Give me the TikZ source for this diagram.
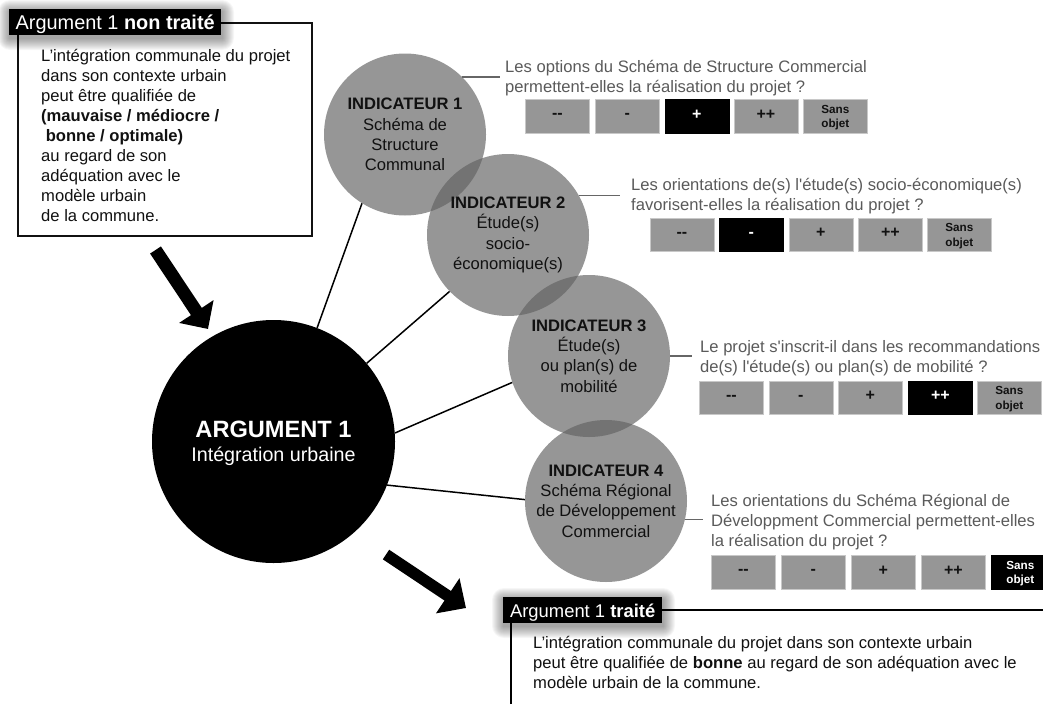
\documentclass[tikz,border=0pt]{standalone}
\usepackage{fontspec}
\setmainfont{Liberation Sans}
\usetikzlibrary{arrows.meta}
\definecolor{btnfill}{HTML}{969696}
\definecolor{btnedge}{HTML}{C8C8C8}
\definecolor{discfill}{HTML}{626262}
\definecolor{qtext}{HTML}{5A5A5A}
\definecolor{leader}{HTML}{666666}
\definecolor{ink}{HTML}{111111}
\newcommand{\firstln}{\rule{0pt}{14pt}}
\newcommand{\dbl}{\mbox{-}\mbox{-}}
\newcommand{\btnrule}{\rule[-3pt]{0pt}{11pt}}
\newcommand{\sanslbl}{\rule{0pt}{11.5pt}Sans\\objet}
\tikzset{
  bodytext/.style={anchor=north west,inner sep=0pt,align=left,text=ink,font=\fontsize{16.6}{20}\selectfont},
  question/.style={anchor=north west,inner sep=0pt,align=left,text=qtext,font=\fontsize{16.6}{20}\selectfont},
  disc/.style={circle,inner sep=0pt,minimum size=162pt,fill=discfill,fill opacity=.67,text opacity=1,text=ink,align=center,font=\fontsize{16.6}{20.2}\selectfont},
  btnbase/.style={anchor=north west,inner sep=0pt,minimum width=64pt,minimum height=33.5pt,align=center,font=\fontsize{16}{14.5}\bfseries\selectfont},
  btn/.style={btnbase,fill=btnfill,draw=btnedge,line width=.8pt,text=ink},
  btnon/.style={btnbase,fill=black,draw=black,line width=.8pt,text=white},
  small/.style={font=\fontsize{11.7}{14.5}\bfseries\selectfont},
  tag/.style={anchor=north west,inner sep=0pt,fill=black,text=white,text height=14pt,text depth=0pt},
  spoke/.style={draw=black,line width=1.5pt},
  lead/.style={draw=leader,line width=1.5pt},
  frame/.style={draw=ink,line width=1.5pt},
  bigarrow/.style={line width=#1,draw=black},
}
\begin{document}
\begin{tikzpicture}[x=1pt,y=-1pt]
\useasboundingbox (0,0) rectangle (1043,704);
% centre disc
\node[circle,inner sep=0pt,minimum size=243pt,fill=black,text=white,align=center] (main) at (273.5,441.5) {};
\node[text=white,inner sep=0pt,anchor=base,font=\fontsize{23.6}{24}\bfseries\selectfont] (mainA) at (273.5,437) {ARGUMENT 1};
\node[text=white,inner sep=0pt,anchor=base,font=\fontsize{19.7}{24}\selectfont] (mainB) at (273.5,461) {Intégration urbaine};
% indicators
\node[disc] (i1) at (405,134.5) {\textbf{INDICATEUR 1}\\Schéma de\\Structure\\Communal};
\node[disc] (i2) at (508,235) {\textbf{INDICATEUR 2}\\Étude(s)\\socio-\\économique(s)};
\node[disc] (i3) at (589,356) {\textbf{INDICATEUR 3}\\Étude(s)\\ou plan(s) de\\mobilité};
\node[disc] (i4) at (606,501) {\textbf{INDICATEUR 4}\\Schéma Régional\\de Développement\\Commercial};
% spokes
\draw[spoke] (main.69.6) -- (i1.238.7);
\draw[spoke] (main.40) -- (i2.224.5);
\draw[spoke] (main.4.5) -- (i3.199.6);
\draw[spoke] (main.-21) -- (i4.179.3);
% leaders
\coordinate (l1) at (500,77);
\coordinate (l2) at (620,195);
\coordinate (l3) at (692,356);
\coordinate (l4) at (703,520);
\draw[lead] (i1.45) -- (l1 |- i1.45);
\draw[lead] (i2.29.6) -- (l2 |- i2.29.6);
\draw[lead] (i3.0) -- (l3 |- i3.0);
\draw[lead] (i4.-13.6) -- (l4 |- i4.-13.6);
% questions
\node[question] (q1) at (505,58) {\firstln Les options du Schéma de Structure Commercial\\permettent-elles la réalisation du projet ?};
\node[question] (q2) at (631,176) {\firstln Les orientations de(s) l\textquotesingle étude(s) socio-économique(s)\\favorisent-elles la réalisation du projet ?};
\node[question] (q3) at (700,338) {\firstln Le projet s\textquotesingle inscrit-il dans les recommandations\\de(s) l\textquotesingle étude(s) ou plan(s) de mobilité ?};
\node[question] (q4) at (711,492) {\firstln Les orientations du Schéma Régional de\\Développment Commercial permettent-elles\\la réalisation du projet ?};
% buttons row 1
\node[btn] (a1) at (525,99) {\btnrule\dbl};
\node[btn] (a2) at (595,99) {\btnrule-};
\node[btnon] (a3) at (664.5,99) {\btnrule+};
\node[btn] (a4) at (733.5,99) {\btnrule++};
\node[btn,small] (a5) at (803,99) {\sanslbl};
% row 2
\node[btn] (b1) at (649.5,217.5) {\btnrule\dbl};
\node[btnon] (b2) at (719,217.5) {\btnrule-};
\node[btn] (b3) at (788.5,217.5) {\btnrule+};
\node[btn] (b4) at (858,217.5) {\btnrule++};
\node[btn,small] (b5) at (927,217.5) {\sanslbl};
% row 3
\node[btn] (c1) at (699,380.5) {\btnrule\dbl};
\node[btn] (c2) at (768.5,380.5) {\btnrule-};
\node[btn] (c3) at (838,380.5) {\btnrule+};
\node[btnon] (c4) at (908,380.5) {\btnrule++};
\node[btn,small] (c5) at (977,380.5) {\sanslbl};
% row 4
\node[btn] (d1) at (711,555) {\btnrule\dbl};
\node[btn] (d2) at (781,555) {\btnrule-};
\node[btn] (d3) at (851,555) {\btnrule+};
\node[btn] (d4) at (921,555) {\btnrule++};
\node[btnon,small,minimum width=58pt] (d5) at (991,555) {\sanslbl};
% box 1
\node[frame,anchor=north west,inner sep=0pt,minimum width=294pt,minimum height=213pt] (box1) at (17,22) {};
\node[bodytext] (t1) at (41,47) {\firstln L’intégration communale du projet\\dans son contexte urbain\\peut être qualifiée de\\\textbf{(mauvaise / médiocre /}\\\hspace{4.6pt}\textbf{bonne / optimale)}\\au regard de son\\adéquation avec le\\modèle urbain\\de la commune.};
\foreach \k in {1,...,12}{
  \fill[black,opacity=.035,rounded corners=\k pt] (10-\k,9-\k+3) rectangle (222+\k,35+\k+3);
}
\node[tag,minimum width=212pt,minimum height=26pt,font=\fontsize{19.9}{24}\selectfont] (tag1) at (9,9) {Argument 1 \textbf{non traité}};
% box 2
\coordinate (b2a) at (511,704);
\coordinate (b2b) at (511,610);
\coordinate (b2c) at (1043,610);
\draw[draw=black,line width=1.5pt] (b2a) -- (b2b) -- (b2c);
\node[bodytext] (t2) at (533,634) {\firstln L’intégration communale du projet dans son contexte urbain\\peut être qualifiée de \textbf{bonne} au regard de son adéquation avec le\\modèle urbain de la commune.};
\foreach \k in {1,...,12}{
  \fill[black,opacity=.035,rounded corners=\k pt] (504-\k,597-\k+3) rectangle (663+\k,623+\k+3);
}
\node[tag,minimum width=159pt,minimum height=26pt,font=\fontsize{18.4}{24}\selectfont] (tag2) at (503,597) {Argument 1 \textbf{traité}};
% block arrows
\coordinate (ar1s) at (155.5,250);
\coordinate (ar1e) at (208,329);
\coordinate (ar2s) at (386,554.5);
\coordinate (ar2e) at (466,608);
\draw[bigarrow=13pt,-{Triangle[length=21pt,width=40pt]}] (ar1s) -- (ar1e);
\draw[bigarrow=11.5pt,-{Triangle[length=22pt,width=41pt]}] (ar2s) -- (ar2e);
\end{tikzpicture}
\end{document}
